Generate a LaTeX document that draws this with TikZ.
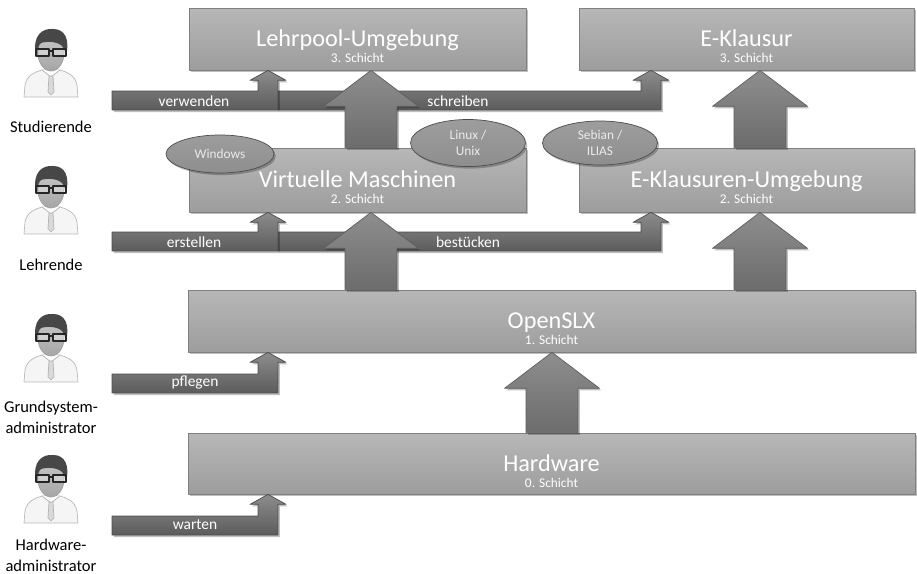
\documentclass[tikz,border=0pt]{standalone}
\usepackage{fontspec}
\setmainfont{Carlito}
\usetikzlibrary{calc}
\usetikzlibrary{shapes.geometric}

\definecolor{kastenoben}{HTML}{B7B7B7}
\definecolor{kastenunten}{HTML}{9D9D9D}
\definecolor{kastenrand}{HTML}{808080}
\definecolor{pfeiloben}{HTML}{8E8E8E}
\definecolor{pfeilunten}{HTML}{6C6C6C}
\definecolor{pfeilrand}{HTML}{5E5E5E}
\definecolor{balkenoben}{HTML}{8C8C8C}
\definecolor{balkenunten}{HTML}{5C5C5C}
\definecolor{balkenrand}{HTML}{4C4C4C}

\tikzstyle{every path}=[line join=round]
\tikzstyle{schatten}=[preaction={fill=black, opacity=0.25, transform canvas={xshift=1pt, yshift=-1.2pt}}]
\tikzstyle{kasten}=[draw=kastenrand, top color=kastenoben, bottom color=kastenunten, schatten, inner sep=0pt]
\tikzstyle{titel}=[text=white, anchor=base, inner sep=0pt, font=\fontsize{13.8}{15}\selectfont]
\tikzstyle{schicht}=[text=white, anchor=base, inner sep=0pt, font=\fontsize{7.6}{8}\selectfont]
\tikzstyle{grosspfeil}=[draw=pfeilrand, top color=pfeiloben, bottom color=pfeilunten, schatten]
\tikzstyle{balken}=[draw=balkenrand, top color=balkenoben, bottom color=balkenunten, schatten]
\tikzstyle{aktion}=[text=white, inner sep=0pt, font=\fontsize{8.8}{10}\selectfont]
\tikzstyle{system}=[ellipse, draw=balkenrand, top color=kastenunten, bottom color=pfeiloben, schatten,
  text=white!92!black, align=center, inner sep=0pt, font=\fontsize{7.6}{9.5}\selectfont]
\tikzstyle{rolle}=[align=center, inner sep=0pt, font=\fontsize{9.4}{11.8}\selectfont]

% breiter Pfeil nach oben: #1 Fuss, #2 Spitze
\newcommand{\hochpfeil}[2]{%
  \path[grosspfeil] let \p1=(#1), \p2=(#2) in
    (\x1-0.52cm,\y1) -- (\x1-0.52cm,\y2-0.72cm) -- (\x1-0.95cm,\y2-0.72cm) -- (\x1,\y2)
    -- (\x1+0.95cm,\y2-0.72cm) -- (\x1+0.52cm,\y2-0.72cm) -- (\x1+0.52cm,\y1) -- cycle;}

% abgeknickter Pfeil: #1 linke untere Ecke des Balkens, #2 Spitze
\newcommand{\knickpfeil}[2]{%
  \path[balken] let \p1=(#1), \p2=(#2) in
    (\x1,\y1) -- (\x1,\y1+0.38cm) -- (\x2-0.2cm,\y1+0.38cm) -- (\x2-0.2cm,\y2-0.2cm)
    -- (\x2-0.36cm,\y2-0.2cm) -- (\x2,\y2) -- (\x2+0.36cm,\y2-0.2cm) -- (\x2+0.2cm,\y2-0.2cm)
    -- (\x2+0.2cm,\y1) -- cycle;}

% Titel und Schicht in einen Kasten schreiben
\newcommand{\beschrift}[3]{%
  \node[titel] at ($(#1.center)+(0,8)$) {#2};
  \node[schicht] at ($(#1.center)+(0,23.5)$) {#3. Schicht};}

\tikzset{
  person/.pic={
    % Hemd
    \path[draw=gray!55, fill=gray!8] (-27,34) -- (-26,22) .. controls (-24,12) and (-16,9) .. (-9,7)
      -- (9,7) .. controls (16,9) and (24,12) .. (26,22) -- (27,34) -- cycle;
    % Hals und Krawatte
    \path[fill=gray!55] (-6,0) rectangle (6,9);
    \path[draw=gray!60, fill=white] (-9,7) -- (0,14) -- (9,7);
    \path[draw=gray!60, fill=gray!30] (-2,13) -- (2,13) -- (3,29) -- (0,32) -- (-3,29) -- cycle;
    % Gesicht
    \path[top color=gray!45, bottom color=gray!70, draw=gray!75] (0,-10) ellipse [x radius=13, y radius=18];
    % Haare
    \path[fill=black!72] (-15,-9) .. controls (-19,-28) and (-8,-35) .. (2,-34)
      .. controls (14,-34) and (19,-24) .. (15,-7) -- (13,-14) .. controls (10,-22) and (-4,-22) .. (-10,-20)
      .. controls (-13,-18) and (-13,-14) .. (-13,-8) -- cycle;
    % Brille
    \path[draw=black!85, line width=1pt, fill=white, fill opacity=0.35]
      (-15,-14) rectangle (-2,-7) (2,-14) rectangle (15,-7);
    \draw[black!85, line width=1pt] (-2,-12) -- (2,-12);
  }
}

\begin{document}
\begin{tikzpicture}[x=0.02cm, y=-0.02cm]
  \useasboundingbox (0,0) rectangle (917,574);

  %Schichten
  \node[kasten, minimum width=6.74cm, minimum height=1.24cm] (lehrpool) at (357.5,39) {};
  \node[kasten, minimum width=6.7cm, minimum height=1.24cm] (eklausur) at (746.5,39) {};
  \node[kasten, minimum width=6.74cm, minimum height=1.28cm] (vm) at (357.5,180) {};
  \node[kasten, minimum width=6.7cm, minimum height=1.28cm] (eku) at (746.5,180) {};
  \node[kasten, minimum width=14.54cm, minimum height=1.24cm] (openslx) at (551.5,321) {};
  \node[kasten, minimum width=14.54cm, minimum height=1.22cm] (hardware) at (551.5,463.5) {};

  \beschrift{lehrpool}{Lehrpool-Umgebung}{3}
  \beschrift{eklausur}{E-Klausur}{3}
  \beschrift{vm}{Virtuelle Maschinen}{2}
  \beschrift{eku}{E-Klausuren-Umgebung}{2}
  \beschrift{openslx}{OpenSLX}{1}
  \beschrift{hardware}{Hardware}{0}

  %Betriebssysteme
  \node[system, minimum width=2.16cm, minimum height=0.76cm] (windows) at (220,154) {Windows};
  \node[system, minimum width=2.3cm, minimum height=0.94cm] (linux) at (468,143) {Linux /\\Unix};
  \node[system, minimum width=2.3cm, minimum height=0.88cm] (sebian) at (600,143) {Sebian /\\ILIAS};

  %Rollen
  \pic at (51,63) {person};
  \node[rolle] (studierende) at (51,127) {Studierende};
  \pic at (51,200) {person};
  \node[rolle] (lehrende) at (51,265) {Lehrende};
  \pic at (51,348) {person};
  \node[rolle] (grundadmin) at (51,417) {Grundsystem-\\administrator};
  \pic at (51,489) {person};
  \node[rolle] (hwadmin) at (51,555) {Hardware-\\administrator};

  %Anfaenge der Balken
  \coordinate (verwenden) at (112,110);
  \coordinate (schreiben) at (278,110);
  \coordinate (erstellen) at (112,251);
  \coordinate (bestuecken) at (278,251);
  \coordinate (pflegen) at (112,393);
  \coordinate (warten) at (112,535);

  %Taetigkeiten
  \knickpfeil{schreiben}{651,0 |- eklausur.south}
  \knickpfeil{verwenden}{268,0 |- lehrpool.south}
  \knickpfeil{bestuecken}{651,0 |- eku.south}
  \knickpfeil{erstellen}{268,0 |- vm.south}
  \knickpfeil{pflegen}{268,0 |- openslx.south}
  \knickpfeil{warten}{268,0 |- hardware.south}

  \node[aktion] at (194,101) {verwenden};
  \node[aktion] at (458,101) {schreiben};
  \node[aktion] at (194,242) {erstellen};
  \node[aktion] at (468,242) {bestücken};
  \node[aktion] at (195,383) {pflegen};
  \node[aktion] at (195,525) {warten};

  %Abhaengigkeiten der Schichten
  \hochpfeil{371,0 |- vm.north}{lehrpool.south}
  \hochpfeil{760,0 |- eku.north}{eklausur.south}
  \hochpfeil{371,0 |- openslx.north}{vm.south}
  \hochpfeil{760,0 |- openslx.north}{eku.south}
  \hochpfeil{552,0 |- hardware.north}{openslx.south}
\end{tikzpicture}
\end{document}
